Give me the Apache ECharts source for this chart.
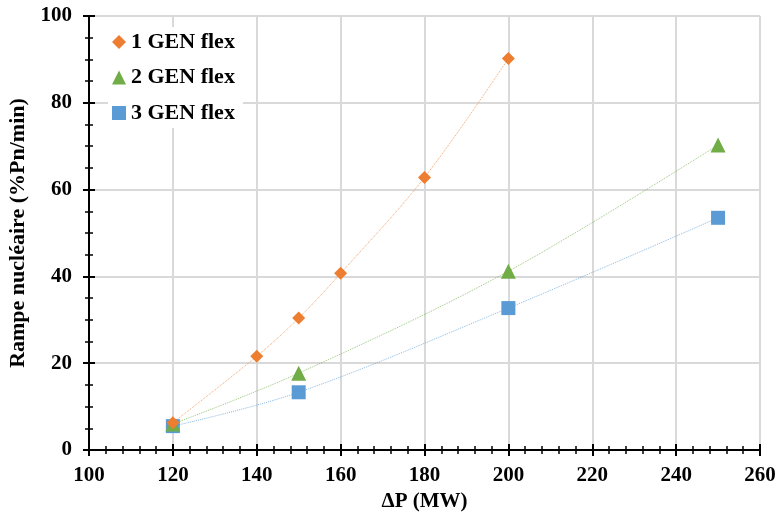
<!DOCTYPE html>
<html><head><meta charset="utf-8">
<script src="https://cdn.jsdelivr.net/npm/echarts@6/dist/echarts.min.js"></script>
<style>html,body{margin:0;padding:0;background:#fff}#c{width:778px;height:520px}</style>
</head><body><div id="c"></div>
<script>
const seriesNames = ['1 GEN flex', '2 GEN flex', '3 GEN flex'];
const gen1X = [120, 140, 150, 160, 180, 200];
const gen1Y = [6.3, 21.6, 30.4, 40.7, 62.8, 90.2];
const gen2X = [120, 150, 200, 250];
const gen2Y = [6.0, 17.7, 41.2, 70.3];
const gen3X = [120, 150, 200, 250];
const gen3Y = [5.5, 13.3, 32.7, 53.5];
const xTitle = 'ΔP (MW)';
const yTitle = 'Rampe nucléaire (%Pn/min)';

const colors = ['#ED7D31', '#70AD47', '#5B9BD5'];
const symbols = ['diamond', 'triangle', 'rect'];
const sizes = [13, 15, 14];
const font = 'Liberation Serif';

function pairs(xs, ys) { return xs.map((x, i) => [x, ys[i]]); }
const allData = [pairs(gen1X, gen1Y), pairs(gen2X, gen2Y), pairs(gen3X, gen3Y)];

const series = allData.map((d, i) => ({
  name: seriesNames[i], type: 'line', data: d, smooth: 0.35,
  symbol: symbols[i], symbolSize: sizes[i],
  itemStyle: { color: colors[i] },
  lineStyle: { color: colors[i], width: 1, type: 'dotted', opacity: 0.7 },
  z: 3 - i
}));

const baseX = { type: 'value', min: 100, max: 260, interval: 20 };
const baseY = { type: 'value', min: 0, max: 100, interval: 20 };

const chart = echarts.init(document.getElementById('c'));
chart.setOption({
  animation: false,
  grid: { left: 89, right: 18, top: 16, bottom: 70, containLabel: false, outerBoundsMode: 'none' },
  legend: {
    data: seriesNames.map((n, i) => ({ name: n, icon: symbols[i] })),
    orient: 'vertical', left: 108, top: 27, itemGap: 13.5, itemWidth: 14, itemHeight: 14,
    backgroundColor: '#fff', padding: [4, 8, 4, 4],
    textStyle: { fontFamily: font, fontWeight: 'bold', fontSize: 22, color: '#000' }
  },
  xAxis: [
    Object.assign({}, baseX, {
      name: xTitle, nameLocation: 'middle', nameGap: 41,
      nameTextStyle: { fontFamily: font, fontWeight: 'bold', fontSize: 21, color: '#000' },
      axisLine: { lineStyle: { color: '#000', width: 2 } },
      axisTick: { show: true, length: 6, lineStyle: { color: '#000', width: 2 } },
      minorTick: { show: true, splitNumber: 5, length: 4, lineStyle: { color: '#000', width: 1.5 } },
      axisLabel: { fontFamily: font, fontWeight: 'bold', fontSize: 21, color: '#000', margin: 15 },
      splitLine: { show: true, lineStyle: { color: '#d9d9d9', width: 2 } }
    }),
    Object.assign({}, baseX, {
      position: 'bottom', axisLine: { show: false }, axisLabel: { show: false },
      axisTick: { show: true, inside: true, length: 6, lineStyle: { color: '#000', width: 2 } },
      minorTick: { show: true, splitNumber: 5, length: 4, lineStyle: { color: '#000', width: 1.5 } },
      splitLine: { show: false }
    })
  ],
  yAxis: [
    Object.assign({}, baseY, {
      name: yTitle, nameLocation: 'middle', nameGap: 58,
      nameTextStyle: { fontFamily: font, fontWeight: 'bold', fontSize: 22, color: '#000' },
      axisLine: { show: true, lineStyle: { color: '#000', width: 2 } },
      axisTick: { show: true, length: 6, lineStyle: { color: '#000', width: 2 } },
      minorTick: { show: true, splitNumber: 4, length: 4, lineStyle: { color: '#000', width: 1.5 } },
      axisLabel: { fontFamily: font, fontWeight: 'bold', fontSize: 21, color: '#000', margin: 17 },
      splitLine: { show: true, lineStyle: { color: '#d9d9d9', width: 2 } }
    }),
    Object.assign({}, baseY, {
      position: 'left', axisLine: { show: false }, axisLabel: { show: false },
      axisTick: { show: true, inside: true, length: 6, lineStyle: { color: '#000', width: 2 } },
      minorTick: { show: true, splitNumber: 4, length: 4, lineStyle: { color: '#000', width: 1.5 } },
      splitLine: { show: false }
    })
  ],
  series: series
});
</script></body></html>
